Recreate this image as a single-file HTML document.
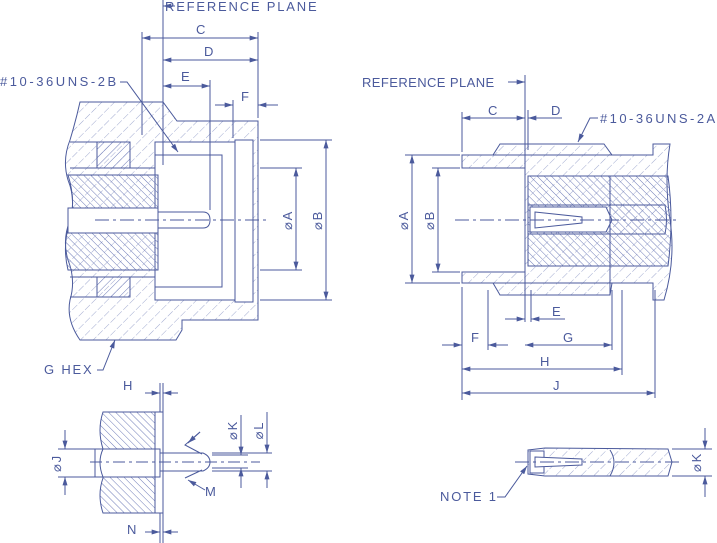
<!DOCTYPE html>
<html><head><style>
html,body{margin:0;padding:0;background:#fff;}
svg{display:block;}
text{font-family:"Liberation Sans",sans-serif;fill:#4b5a9c;font-size:13px;letter-spacing:1.8px;}
</style></head><body>
<svg width="717" height="543" viewBox="0 0 717 543" xmlns="http://www.w3.org/2000/svg">
<defs>
<pattern id="h1" patternUnits="userSpaceOnUse" width="9" height="9" patternTransform="rotate(45)">
<line x1="0" y1="0" x2="0" y2="9" stroke="#8a95c4" stroke-width="0.8" stroke-dasharray="6 2"/></pattern>
<pattern id="h2" patternUnits="userSpaceOnUse" width="5" height="5" patternTransform="rotate(-45)">
<line x1="0" y1="0" x2="0" y2="5" stroke="#6f7cb8" stroke-width="1"/></pattern>
<pattern id="h3" patternUnits="userSpaceOnUse" width="6" height="6" patternTransform="rotate(45)">
<line x1="0" y1="0" x2="0" y2="6" stroke="#6f7cb8" stroke-width="1"/></pattern>
<marker id="a" viewBox="0 0 10 6" refX="10" refY="3" markerWidth="9" markerHeight="5" orient="auto-start-reverse"><path d="M0,0L10,3L0,6z" fill="#4b5a9c"/></marker>
</defs>
<g stroke="#4b5a9c" stroke-width="1" fill="none">
<!-- LEFT MAIN VIEW -->
<path d="M80,102 L163,102 L177,121 L258,121 L258,320 L182,320 L182,330 L176,340 L80,340 Q66,320 70,300 Q76,280 68,260 Q62,240 70,220 Q76,200 68,180 Q62,160 70,140 Q76,120 80,102Z" fill="url(#h1)"/>
<rect x="155" y="142" width="98" height="158" fill="#fff"/>
<rect x="235" y="140" width="18" height="162" fill="#fff"/>
<path d="M155,155 L222,155 L222,287 L155,287" />
<line x1="235" y1="140" x2="235" y2="300"/>
<line x1="253" y1="140" x2="253" y2="300"/>
<path d="M68,175 L158,175 L158,270 L68,270 Q62,245 70,222 Q76,200 68,175Z" fill="url(#h2)"/>
<rect x="68" y="208" width="90" height="25" fill="#fff"/>
<rect x="97" y="142" width="33" height="26" fill="url(#h3)"/>
<rect x="97" y="277" width="33" height="20" fill="url(#h3)"/>
<path d="M70,142 L97,142 M70,168 L155,168 M70,297 L97,297 M70,277 L155,277"/>
<path d="M158,212 L203,212 Q210,212 210,220 Q210,228 203,228 L158,228"/>
<line x1="158" y1="208" x2="158" y2="233"/>
<line x1="95" y1="220" x2="270" y2="220" stroke-dasharray="14 4 3 4"/>
<line x1="163" y1="0" x2="163" y2="165"/>
<line x1="142" y1="32" x2="142" y2="135"/>
<line x1="258" y1="32" x2="258" y2="118"/>
<line x1="210" y1="80" x2="210" y2="210"/>
<line x1="233" y1="100" x2="233" y2="138"/>
<line x1="142" y1="38" x2="258" y2="38" marker-start="url(#a)" marker-end="url(#a)"/>
<line x1="163" y1="60" x2="258" y2="60" marker-start="url(#a)" marker-end="url(#a)"/>
<line x1="163" y1="86" x2="210" y2="86" marker-start="url(#a)" marker-end="url(#a)"/>
<line x1="215" y1="105" x2="233" y2="105" marker-end="url(#a)"/>
<line x1="278" y1="105" x2="258" y2="105" marker-end="url(#a)"/>
<line x1="175" y1="6" x2="163" y2="6" marker-end="url(#a)"/>
<line x1="260" y1="168" x2="302" y2="168"/><line x1="260" y1="270" x2="302" y2="270"/>
<line x1="260" y1="140" x2="332" y2="140"/><line x1="260" y1="300" x2="332" y2="300"/>
<line x1="296" y1="168" x2="296" y2="270" marker-start="url(#a)" marker-end="url(#a)"/>
<line x1="326" y1="140" x2="326" y2="300" marker-start="url(#a)" marker-end="url(#a)"/>
<path d="M120,82 L127,82 L178,152" marker-end="url(#a)"/>
<path d="M97,370 L103,370 L115,340" marker-end="url(#a)"/>

<!-- RIGHT MAIN VIEW -->
<path d="M462,155 L493,155 L500,144 L604,144 L612,155 L653,155 L653,144 L670,144 Q664,180 670,220 Q676,260 664,300 L653,300 L653,283 L612,283 L610,295 L500,295 L493,283 L462,283 L462,272 L525,272 L525,168 L462,168Z" fill="url(#h1)"/>
<path d="M528,176 L668,176 Q674,220 668,266 L528,266Z" fill="url(#h2)"/>
<path d="M528,205 L665,205 Q668,220 665,234 L528,234Z" fill="url(#h1)"/>
<path d="M530,207 L606,207 L612,220 L606,232 L530,232Z" fill="#fff"/>
<path d="M535,212 L582,217 L582,223 L535,228Z"/>
<line x1="610" y1="176" x2="610" y2="295"/>
<line x1="493" y1="155" x2="653" y2="155"/><line x1="493" y1="283" x2="653" y2="283"/>
<line x1="455" y1="220" x2="680" y2="220" stroke-dasharray="14 4 3 4"/>
<line x1="525" y1="75" x2="525" y2="322"/>
<line x1="528" y1="110" x2="528" y2="150"/>
<line x1="462" y1="112" x2="462" y2="152"/><line x1="462" y1="287" x2="462" y2="400"/>
<line x1="488" y1="290" x2="488" y2="350"/><line x1="612" y1="290" x2="612" y2="350"/>
<line x1="622" y1="290" x2="622" y2="375"/><line x1="655" y1="290" x2="655" y2="398"/>
<line x1="531" y1="290" x2="531" y2="322"/>
<line x1="508" y1="82" x2="525" y2="82" marker-end="url(#a)"/>
<line x1="462" y1="118" x2="525" y2="118" marker-start="url(#a)" marker-end="url(#a)"/>
<line x1="562" y1="118" x2="528" y2="118" marker-end="url(#a)"/>
<path d="M598,118 L590,118 L578,142" marker-end="url(#a)"/>
<line x1="505" y1="319" x2="525" y2="319" marker-end="url(#a)"/>
<line x1="565" y1="319" x2="531" y2="319" marker-end="url(#a)"/>
<line x1="442" y1="345" x2="462" y2="345" marker-end="url(#a)"/>
<line x1="508" y1="345" x2="488" y2="345" marker-end="url(#a)"/>
<line x1="525" y1="345" x2="612" y2="345" marker-start="url(#a)" marker-end="url(#a)"/>
<line x1="462" y1="369" x2="622" y2="369" marker-start="url(#a)" marker-end="url(#a)"/>
<line x1="462" y1="393" x2="655" y2="393" marker-start="url(#a)" marker-end="url(#a)"/>
<line x1="405" y1="155" x2="460" y2="155"/><line x1="405" y1="283" x2="460" y2="283"/>
<line x1="432" y1="168" x2="460" y2="168"/><line x1="432" y1="272" x2="460" y2="272"/>
<line x1="412" y1="155" x2="412" y2="283" marker-start="url(#a)" marker-end="url(#a)"/>
<line x1="438" y1="168" x2="438" y2="272" marker-start="url(#a)" marker-end="url(#a)"/>

<!-- BOTTOM LEFT -->
<path d="M103,412 L160,412 L160,513 L103,513 Q97,495 103,478 L103,449 Q97,430 103,412Z" fill="url(#h2)"/>
<rect x="155" y="412" width="8" height="101" fill="#fff"/>
<rect x="95" y="449" width="65" height="28" fill="#fff"/>
<path d="M103,449 Q97,462 103,477"/>
<line x1="103" y1="449" x2="160" y2="449"/><line x1="103" y1="477" x2="160" y2="477"/>
<rect x="155" y="412" width="8" height="101"/>
<path d="M160,453 L203,453 Q210,456 210,462 Q210,468 203,471 L160,471"/>
<line x1="90" y1="462" x2="260" y2="462" stroke-dasharray="12 4 3 4"/>
<line x1="160" y1="383" x2="160" y2="412"/><line x1="163" y1="383" x2="163" y2="412"/>
<line x1="160" y1="513" x2="160" y2="543"/><line x1="163" y1="513" x2="163" y2="543"/>
<line x1="145" y1="393" x2="160" y2="393" marker-end="url(#a)"/><line x1="178" y1="393" x2="163" y2="393" marker-end="url(#a)"/>
<line x1="145" y1="532" x2="160" y2="532" marker-end="url(#a)"/><line x1="178" y1="532" x2="163" y2="532" marker-end="url(#a)"/>
<line x1="58" y1="449" x2="95" y2="449"/><line x1="58" y1="477" x2="95" y2="477"/>
<line x1="65" y1="430" x2="65" y2="449" marker-end="url(#a)"/><line x1="65" y1="495" x2="65" y2="477" marker-end="url(#a)"/>
<line x1="212" y1="455" x2="248" y2="455"/><line x1="212" y1="468" x2="248" y2="468"/>
<line x1="212" y1="453" x2="272" y2="453"/><line x1="212" y1="471" x2="272" y2="471"/>
<line x1="241" y1="415" x2="241" y2="455" marker-end="url(#a)"/><line x1="241" y1="488" x2="241" y2="468" marker-end="url(#a)"/>
<line x1="267" y1="412" x2="267" y2="453" marker-end="url(#a)"/><line x1="267" y1="488" x2="267" y2="471" marker-end="url(#a)"/>
<path d="M200,432 L185,445 L202,454"/><line x1="200" y1="432" x2="188" y2="443" marker-end="url(#a)"/>
<path d="M185,478 L202,470"/><line x1="205" y1="490" x2="188" y2="480" marker-end="url(#a)"/>

<!-- BOTTOM RIGHT -->
<path d="M528,450 L545,448 L668,449 L672,462 L668,476 L545,476 L528,474Z" fill="url(#h1)"/>
<path d="M530,451 L544,451 L544,473 L530,473Z" fill="#fff"/>
<path d="M535,457 L582,459 L582,465 L535,467Z" fill="#fff"/>
<path d="M610,450 Q618,462 610,476"/>
<line x1="515" y1="462" x2="680" y2="462" stroke-dasharray="14 4 3 4"/>
<line x1="672" y1="449" x2="712" y2="449"/><line x1="672" y1="476" x2="712" y2="476"/>
<line x1="705" y1="428" x2="705" y2="449" marker-end="url(#a)"/><line x1="705" y1="497" x2="705" y2="476" marker-end="url(#a)"/>
<path d="M497,497 L505,497 L527,466" marker-end="url(#a)"/>
</g>
<text x="165" y="11">REFERENCE PLANE</text>
<text x="196" y="34">C</text><text x="204" y="56">D</text><text x="181" y="81">E</text><text x="241" y="101">F</text>
<text x="0" y="86" textLength="118">#10-36UNS-2B</text>
<text x="44" y="374">G HEX</text>
<text transform="translate(292,220) rotate(-90)" text-anchor="middle">⌀A</text>
<text transform="translate(322,220) rotate(-90)" text-anchor="middle">⌀B</text>
<text x="362" y="87" textLength="134">REFERENCE PLANE</text>
<text x="488" y="115">C</text><text x="551" y="115">D</text>
<text x="600" y="123" textLength="117">#10-36UNS-2A</text>
<text transform="translate(408,220) rotate(-90)" text-anchor="middle">⌀A</text>
<text transform="translate(434,220) rotate(-90)" text-anchor="middle">⌀B</text>
<text x="552" y="316">E</text><text x="471" y="342">F</text><text x="563" y="342">G</text>
<text x="540" y="366">H</text><text x="553" y="390">J</text>
<text x="123" y="390">H</text><text x="127" y="534">N</text>
<text transform="translate(61,463) rotate(-90)" text-anchor="middle">⌀J</text>
<text transform="translate(237,430) rotate(-90)" text-anchor="middle">⌀K</text>
<text transform="translate(263,430) rotate(-90)" text-anchor="middle">⌀L</text>
<text x="205" y="496">M</text>
<text transform="translate(701,462) rotate(-90)" text-anchor="middle">⌀K</text>
<text x="440" y="501">NOTE 1</text>
</svg>
</body></html>
